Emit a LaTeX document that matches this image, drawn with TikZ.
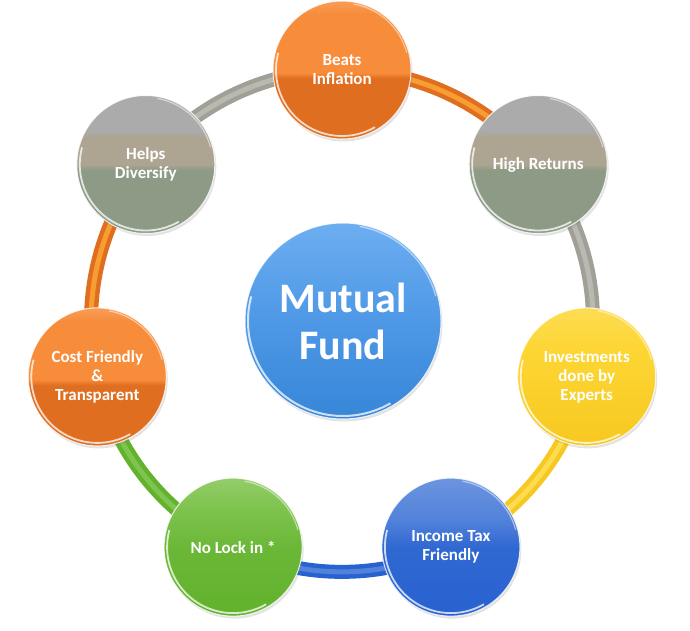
\documentclass[tikz,border=0pt]{standalone}
\usepackage{fontspec}
\setmainfont{Carlito}
\usetikzlibrary{shadows}
\pgfdeclarelayer{bg}
\pgfsetlayers{bg,main}
\definecolor{orT}{RGB}{247,140,58}
\definecolor{orB}{RGB}{224,110,32}
\definecolor{grT}{RGB}{171,171,171}
\definecolor{grM}{RGB}{173,165,146}
\definecolor{grB}{RGB}{141,154,134}
\definecolor{yeT}{RGB}{253,214,52}
\definecolor{yeB}{RGB}{247,200,32}
\definecolor{blT}{RGB}{82,130,218}
\definecolor{blB}{RGB}{40,98,208}
\definecolor{gnT}{RGB}{128,196,80}
\definecolor{gnB}{RGB}{98,178,45}
\definecolor{cbT}{RGB}{108,174,240}
\definecolor{cbM}{RGB}{78,152,230}
\definecolor{cbB}{RGB}{55,134,216}
\definecolor{grBand}{RGB}{160,160,150}
\definecolor{grHi}{RGB}{185,185,178}
\pgfdeclareverticalshading{orshade}{100bp}{color(0bp)=(orB); color(25bp)=(orB); color(47bp)=(orB); color(49bp)=(orT); color(70bp)=(orT); color(75bp)=(orT!85!white); color(100bp)=(orT!85!white)}
\pgfdeclareverticalshading{grshade}{100bp}{color(0bp)=(grB); color(48bp)=(grB); color(50bp)=(grM); color(60bp)=(grM); color(62bp)=(grT); color(100bp)=(grT)}
\pgfdeclareverticalshading{yeshade}{100bp}{color(0bp)=(yeB); color(25bp)=(yeB); color(60bp)=(yeT); color(75bp)=(yeT!85!white); color(100bp)=(yeT!85!white)}
\pgfdeclareverticalshading{blshade}{100bp}{color(0bp)=(blB); color(25bp)=(blB); color(50bp)=(blB!80!blT); color(60bp)=(blT); color(75bp)=(blT!85!white); color(100bp)=(blT!85!white)}
\pgfdeclareverticalshading{gnshade}{100bp}{color(0bp)=(gnB); color(25bp)=(gnB); color(50bp)=(gnB!70!gnT); color(65bp)=(gnT); color(75bp)=(gnT!85!white); color(100bp)=(gnT!85!white)}
\pgfdeclareverticalshading{cbshade}{100bp}{color(0bp)=(cbB); color(25bp)=(cbB); color(50bp)=(cbM); color(75bp)=(cbT); color(100bp)=(cbT)}
\tikzset{
  bub/.style={circle, minimum size=138pt, inner sep=0pt, text=white, align=center,
    font=\fontsize{17}{19}\selectfont\bfseries,
    draw=white, draw opacity=0.8, line width=1pt,
    drop shadow={opacity=0.22, shadow xshift=1.5pt, shadow yshift=-2.5pt},
    path picture={
      \draw[white, opacity=0.75, line width=1.8pt] (path picture bounding box.center) ++(165:66) arc (165:300:66);
      \draw[white, opacity=0.5, line width=1.2pt] (path picture bounding box.center) ++(15:67) arc (15:80:67);
    }},
  hub/.style={bub, minimum size=196pt, shading=cbshade,
    font=\fontsize{42}{47}\selectfont\bfseries,
    path picture={
      \draw[white, opacity=0.75, line width=2pt] (path picture bounding box.center) ++(165:95) arc (165:300:95);
      \draw[white, opacity=0.5, line width=1.4pt] (path picture bounding box.center) ++(15:96) arc (15:80:96);
    }},
  band/.style={line width=4.5pt, double distance=5pt, line cap=butt},
  arcseg/.style={bend left=25.714, looseness=0.896}
}
\begin{document}
\begin{tikzpicture}[x=1pt,y=1pt]
\useasboundingbox (0,0) rectangle (690,630);
\node[bub, shading=orshade] (n1) at (342,560) {Beats\\Inflation};
\node[bub, shading=grshade] (n2) at (538.2,465.5) {High Returns};
\node[bub, shading=yeshade] (n3) at (586.7,253.1) {Investments\\done by\\Experts};
\node[bub, shading=blshade] (n4) at (450.9,82.9) {Income Tax\\Friendly};
\node[bub, shading=gnshade] (n5) at (233.1,82.9) {No Lock in *};
\node[bub, shading=orshade] (n6) at (97.3,253.1) {Cost Friendly\\\&\\Transparent};
\node[bub, shading=grshade] (n7) at (145.8,465.5) {Helps\\Diversify};
\node[hub] (c) at (343,309) {Mutual\\Fund};
\begin{pgfonlayer}{bg}
\draw[band, draw=orB, double=orT!85!yellow] (n1.center) to[arcseg] (n2.center);
\draw[band, draw=grBand, double=grHi] (n2.center) to[arcseg] (n3.center);
\draw[band, draw=yeB, double=yeT!85!white] (n3.center) to[arcseg] (n4.center);
\draw[band, draw=blB, double=blT] (n4.center) to[arcseg] (n5.center);
\draw[band, draw=gnB, double=gnT] (n5.center) to[arcseg] (n6.center);
\draw[band, draw=orB, double=orT!85!yellow] (n6.center) to[arcseg] (n7.center);
\draw[band, draw=grBand, double=grHi] (n7.center) to[arcseg] (n1.center);
\end{pgfonlayer}
\end{tikzpicture}
\end{document}
